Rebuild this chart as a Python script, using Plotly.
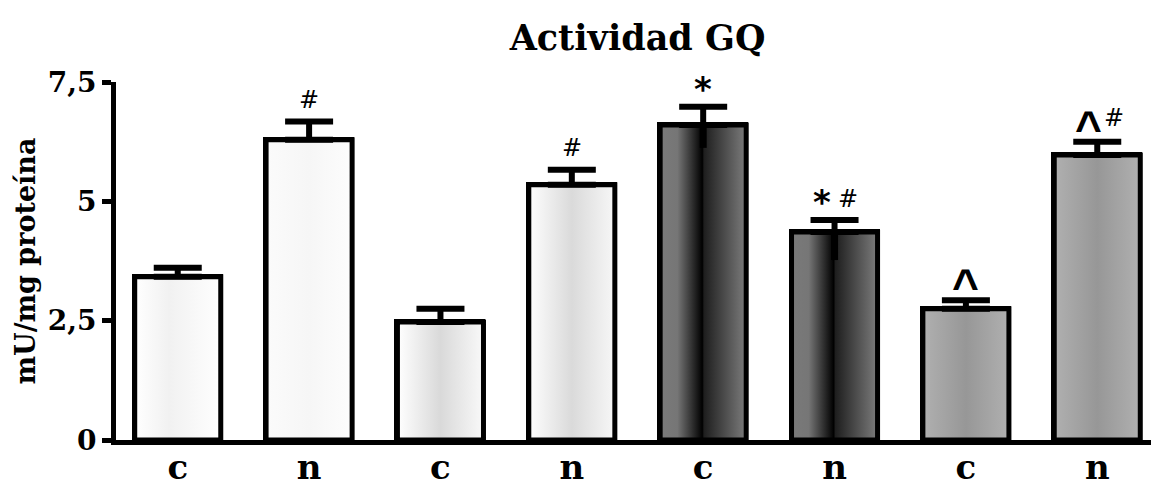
import plotly.graph_objects as go

# ---- data ----
categories = ["c", "n", "c", "n", "c", "n", "c", "n"]
values = [3.42, 6.29, 2.47, 5.35, 6.60, 4.36, 2.75, 5.97]
err_up = [0.19, 0.38, 0.28, 0.31, 0.38, 0.25, 0.18, 0.28]
err_down = [0, 0, 0, 0, 0.48, 0.59, 0, 0]
y_tickvals = [0, 2.5, 5, 7.5]
y_ticktext = ["0", "2,5", "5", "7,5"]
# significance marks: (bar index, symbol)
marks = [(1, "#"), (3, "#"), (4, "*"), (5, "*"), (5, "#"), (6, "^"), (7, "^"), (7, "#")]

# ---- styles ----
gradients = [
    [[0, "#ffffff"], [0.4, "#f1f1f1"], [1, "#ffffff"]],
    [[0, "#fbfbfb"], [0.5, "#f6f6f6"], [1, "#fdfdfd"]],
    [[0, "#ffffff"], [0.5, "#d9d9d9"], [1, "#f9f9f9"]],
    [[0, "#fefefe"], [0.5, "#dadada"], [1, "#f7f7f7"]],
    [[0, "#7a7a7a"], [0.2, "#767676"], [0.49, "#000000"], [0.51, "#1e1e1e"], [1, "#7c7c7c"]],
    [[0, "#7a7a7a"], [0.2, "#767676"], [0.49, "#000000"], [0.51, "#1e1e1e"], [1, "#7c7c7c"]],
    [[0, "#b0b0b0"], [0.5, "#979797"], [1, "#b0b0b0"]],
    [[0, "#b0b0b0"], [0.5, "#979797"], [1, "#b0b0b0"]],
]
base_colors = ["#f7f7f7", "#f7f7f7", "#e6e6e6", "#e6e6e6", "#404040", "#404040", "#a3a3a3", "#a3a3a3"]
bar_w = 0.655
serif = "DejaVu Serif"
sans = "DejaVu Sans"

x_idx = list(range(len(values)))

fig = go.Figure()

fig.add_trace(go.Bar(
    x=x_idx, y=values, width=bar_w,
    marker=dict(color=base_colors, line=dict(color="black", width=5)),
    showlegend=False, hoverinfo="skip",
))

# gradient overlays for every bar (derived from the data arrays)
for i, v in enumerate(values):
    x0, x1 = i - bar_w / 2, i + bar_w / 2
    fig.add_trace(go.Scatter(
        x=[x0, x1, x1, x0, x0], y=[0, 0, v, v, 0],
        mode="lines", fill="toself",
        fillgradient=dict(type="horizontal", colorscale=gradients[i]),
        line=dict(color="black", width=5),
        showlegend=False, hoverinfo="skip",
    ))

# upper error bars with caps
fig.add_trace(go.Scatter(
    x=x_idx, y=values, mode="markers",
    marker=dict(size=1, color="rgba(0,0,0,0)"),
    error_y=dict(type="data", symmetric=False, array=err_up, arrayminus=[0] * len(values),
                 width=24, thickness=6, color="black"),
    showlegend=False, hoverinfo="skip",
))
# lower error stems (visible on dark bars)
fig.add_trace(go.Scatter(
    x=x_idx, y=values, mode="markers",
    marker=dict(size=1, color="rgba(0,0,0,0)"),
    error_y=dict(type="data", symmetric=False, array=[0] * len(values), arrayminus=err_down,
                 width=0, thickness=7, color="black"),
    showlegend=False, hoverinfo="skip",
))

# significance annotations
style = {
    "#": dict(size=24, family=sans, weight="normal"),
    "*": dict(size=34, family=sans, weight="bold"),
    "^": dict(size=46, family="Liberation Sans", weight="bold"),
}
yshift = {"#": 6, "*": -4, "^": -14}
for bi, sym in marks:
    same = [s for b, s in marks if b == bi]
    ys = yshift[sym]
    if len(same) == 1:
        xs = 0
    else:
        xs = -13 if same.index(sym) == 0 else 13
        if "^" in same:
            xs += 4
            if sym == "#":
                ys += 2
        elif sym == "#":
            ys -= 1
    fig.add_annotation(
        x=bi, y=values[bi] + err_up[bi], text=sym, showarrow=False,
        xshift=xs, yshift=ys, yanchor="bottom",
        font=dict(color="black", **style[sym]),
    )

# the page body adds an 8px offset, so the figure is sized to fit the window
fig.update_layout(
    width=1151, height=481,
    paper_bgcolor="white", plot_bgcolor="white",
    margin=dict(l=108, r=0, t=74, b=49, autoexpand=False),
    title=dict(text="Actividad GQ", xref="paper", x=0.5, xanchor="center",
               yref="container", y=0.938, yanchor="middle",
               font=dict(family=serif, size=35, color="black", weight="bold")),
    showlegend=False,
    bargap=0,
)
fig.update_xaxes(
    range=[-0.47, 7.47], tickvals=x_idx, ticktext=categories,
    showline=True, linecolor="black", linewidth=5,
    ticks="", ticklabelstandoff=-7, automargin=False,
    tickfont=dict(family=serif, size=34, color="black", weight="bold"),
    showgrid=False, zeroline=False, fixedrange=True,
)
fig.update_yaxes(
    range=[0, 7.5], tickvals=y_tickvals, ticktext=y_ticktext,
    showline=True, linecolor="black", linewidth=5, automargin=False,
    ticks="outside", ticklen=9, tickwidth=5, tickcolor="black",
    tickfont=dict(family=serif, size=28, color="black", weight="bold"),
    title=dict(text="mU/mg proteína", standoff=6,
               font=dict(family=serif, size=27, color="black", weight="bold")),
    showgrid=False, zeroline=False, fixedrange=True,
)

fig.write_html("out.html")
